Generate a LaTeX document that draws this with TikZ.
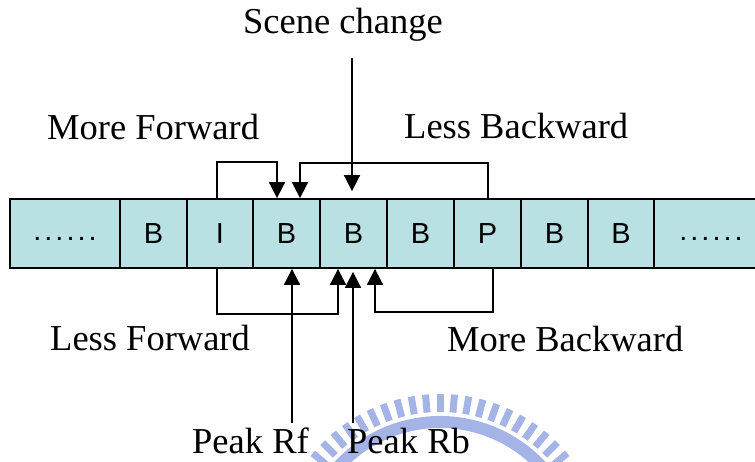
\documentclass[tikz,border=0pt]{standalone}
\usepackage{fontspec}
\setmainfont{Liberation Serif}
\newfontfamily\framefont{Liberation Sans}
\usetikzlibrary{arrows.meta}

\definecolor{framefill}{RGB}{185,224,226}
\definecolor{logoblue}{RGB}{165,180,230}
\newcommand\framedots{\vphantom{B}\raisebox{3pt}{.\kern3pt.\kern3pt.\kern3pt.\kern3pt.\kern3pt.}}

\begin{document}
\begin{tikzpicture}[x=1pt,y=-1pt,
  frame/.style={draw, line width=1.8pt, fill=framefill, minimum height=69pt,
    inner sep=0pt, font=\framefont\fontsize{29}{29}\selectfont},
  lbl/.style={anchor=base west, inner sep=0pt, font=\fontsize{36.5}{40}\selectfont},
  ref/.style={line width=1.8pt, -{Triangle[width=16pt,length=16pt]}},
  logo/.style={draw=logoblue}]

  \useasboundingbox (0,0) rectangle (755,461);

  % --- faint logo behind the bottom labels ---
  \draw[logo, line width=12pt] (440,560) ++(200:138) arc[start angle=200, end angle=340, radius=138];
  \foreach \a in {200,205,...,340}
    \draw[logo, line width=7pt] (440,560) ++(\a:148) -- ++(\a:18);

  % --- the frame sequence ---
  \foreach \n/\x/\w/\t in {f0/65/110/\framedots, f1/153.5/67/B, f2/220/66/I, f3/286.5/67/B,
      f4/353.5/67/B, f5/420.5/67/B, f6/487.5/67/P, f7/554.5/67/B, f8/621/66/B, f9/711/114/\framedots}
    \node[frame, minimum width=\w pt] (\n) at (\x,233.5) {\t};

  % --- labels ---
  \node[lbl] (scene) at (243,33) {Scene change};
  \node[lbl] (mf) at (47,139) {More Forward};
  \node[lbl] (lb) at (404,138) {Less Backward};
  \node[lbl] (lf) at (50,350) {Less Forward};
  \node[lbl] (mb) at (447,351) {More Backward};
  \node[lbl] (prf) at (192,453) {Peak Rf};
  \node[lbl] (prb) at (347,453) {Peak Rb};

  % --- references above the frames ---
  \draw[ref] ([xshift=-3pt]f2.north) -- ++(0,-36) -| ([xshift=-9.5pt]f3.north);
  \draw[ref] ([xshift=0.5pt]f6.north) -- ++(0,-35) -| ([xshift=13.5pt]f3.north);
  \coordinate (cut) at (352,58);
  \draw[ref] (cut) -- ([xshift=-1.5pt,yshift=7pt]f4.north);

  % --- references below the frames ---
  \draw[ref] ([xshift=-3pt]f2.south) -- ++(0,45) -| ([xshift=-15.5pt]f4.south);
  \draw[ref] ([xshift=5.5pt]f6.south) -- ++(0,43) -| ([xshift=21.5pt]f4.south);
  \coordinate (rf) at (292,423);
  \coordinate (rb) at (353,423);
  \draw[ref] (rf) -- (rf |- f3.south);
  \draw[ref] (rb) -- ([yshift=-3pt]rb |- f4.south);

\end{tikzpicture}
\end{document}
